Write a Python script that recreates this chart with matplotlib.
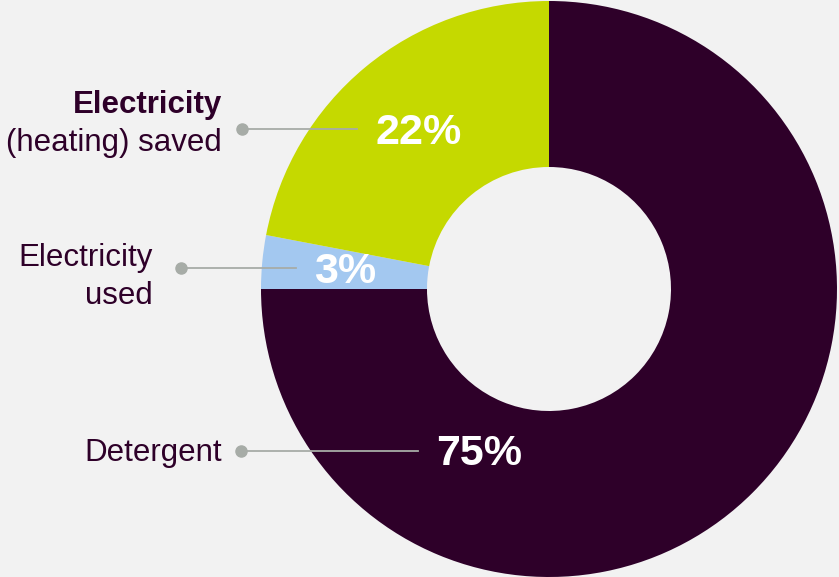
import matplotlib.pyplot as plt

# data
labels = ['Detergent', 'Electricity used', 'Electricity (heating) saved']
shares = [75, 3, 22]
colors = ['#2e0029', '#a3c8f0', '#c5d900']
pct_text = ['75%', '3%', '22%']

W, H = 839, 577
bg = '#f2f2f2'
ink = '#2e0029'
grey = '#a7aca7'

plt.rcParams['font.family'] = ['Liberation Sans', 'DejaVu Sans']

fig = plt.figure(figsize=(W / 100, H / 100), dpi=100, facecolor=bg)
ax = fig.add_axes([0, 0, 1, 1])
ax.set_facecolor(bg)

cx, cy, R = 549, H - 289, 288
ax.pie(shares, colors=colors, startangle=90, counterclock=False,
       center=(cx, cy), radius=R,
       wedgeprops=dict(width=166, linewidth=0))
ax.set_xlim(0, W)
ax.set_ylim(0, H)
ax.set_aspect('equal')
ax.axis('off')

# leader lines (pixel coords, y from top)
leaders = [(241, 418, 451), (181, 296, 268), (242, 357, 129)]
pct_pos = [(479, 454), (345, 272), (419, 133)]
for (x0, x1, y), (px, py), t in zip(leaders, pct_pos, pct_text):
    ax.plot([x0, x1], [H - y, H - y], color=grey, lw=1.3, zorder=3)
    ax.plot(x0, H - y, 'o', color=grey, ms=8, zorder=4)
    ax.text(px, H - py, t, color='white', fontsize=31, fontweight='bold',
            ha='center', va='center', zorder=5)

# category labels
fs = 22.5
ax.text(222, H - 453, 'Detergent', color=ink, fontsize=fs, ha='right', va='center')
ax.text(153, H - 258, 'Electricity', color=ink, fontsize=fs, ha='right', va='center')
ax.text(153, H - 296, 'used', color=ink, fontsize=fs, ha='right', va='center')
ax.text(222, H - 105, 'Electricity', color=ink, fontsize=fs, fontweight='bold',
        ha='right', va='center')
ax.text(222, H - 143, '(heating) saved', color=ink, fontsize=fs, ha='right', va='center')

fig.savefig('out.png', dpi=100, facecolor=bg)
